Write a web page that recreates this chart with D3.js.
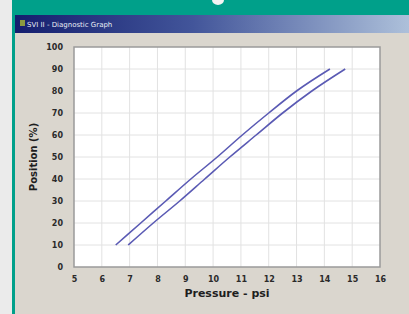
<!DOCTYPE html>
<html>
<head>
<meta charset="utf-8">
<script src="https://cdn.jsdelivr.net/npm/d3@7"></script>
<style>
  body { margin: 0; background: #ebebeb; }
  svg { display: block; font-family: "DejaVu Sans", sans-serif; }
</style>
</head>
<body>
<div id="chart"></div>
<script>
// data
const xTicks = [5, 6, 7, 8, 9, 10, 11, 12, 13, 14, 15, 16];
const yTicks = [0, 10, 20, 30, 40, 50, 60, 70, 80, 90, 100];
const upPressure = [6.5, 7.4, 8.3, 9.2, 10.15, 11.05, 12.0, 13.0, 14.2];
const upPosition = [10, 20, 30, 40, 50, 60, 70, 80, 90];
const downPressure = [6.95, 7.85, 8.8, 9.7, 10.6, 11.55, 12.5, 13.55, 14.75];
const downPosition = [10, 20, 30, 40, 50, 60, 70, 80, 90];

const W = 409, H = 314;
const svg = d3.select('#chart').append('svg').attr('width', W).attr('height', H);

// window frame
const defs = svg.append('defs');
const grad = defs.append('linearGradient').attr('id', 'titlebar');
grad.append('stop').attr('offset', '0%').attr('stop-color', '#141e6e');
grad.append('stop').attr('offset', '45%').attr('stop-color', '#42559a');
grad.append('stop').attr('offset', '100%').attr('stop-color', '#adc0da');

svg.append('rect').attr('x', 0).attr('y', 0).attr('width', W).attr('height', H).attr('fill', '#ebebeb');
svg.append('rect').attr('x', 12).attr('y', 0).attr('width', W - 12).attr('height', H).attr('fill', '#00a08a');
svg.append('rect').attr('x', 15).attr('y', 15).attr('width', W - 15).attr('height', H - 15).attr('fill', '#dad6ce');
svg.append('rect').attr('x', 15).attr('y', 15).attr('width', W - 15).attr('height', 18).attr('fill', 'url(#titlebar)');
svg.append('ellipse').attr('cx', 218).attr('cy', 0).attr('rx', 6).attr('ry', 5).attr('fill', '#f4f4f4');
svg.append('rect').attr('x', 20).attr('y', 20).attr('width', 5).attr('height', 6).attr('fill', '#8a9a40');
svg.append('text').attr('x', 27).attr('y', 27).attr('fill', '#e8ecf4')
  .style('font-size', '7px').text('SVI II - Diagnostic Graph');

// plot area
const margin = {left: 74, top: 47, right: 29, bottom: 47};
const x = d3.scaleLinear().domain([5, 16]).range([margin.left, W - margin.right]);
const y = d3.scaleLinear().domain([0, 100]).range([H - margin.bottom, margin.top]);

svg.append('rect')
  .attr('x', x(5)).attr('y', y(100))
  .attr('width', x(16) - x(5)).attr('height', y(0) - y(100))
  .attr('fill', '#ffffff');

// grid
svg.append('g').selectAll('line').data(xTicks.slice(1, -1)).enter().append('line')
  .attr('x1', d => x(d)).attr('x2', d => x(d))
  .attr('y1', y(100)).attr('y2', y(0))
  .attr('stroke', '#e2e2e2').attr('stroke-width', 1);
svg.append('g').selectAll('line').data(yTicks.slice(1, -1)).enter().append('line')
  .attr('x1', x(5)).attr('x2', x(16))
  .attr('y1', d => y(d)).attr('y2', d => y(d))
  .attr('stroke', '#e2e2e2').attr('stroke-width', 1);

svg.append('rect')
  .attr('x', x(5)).attr('y', y(100))
  .attr('width', x(16) - x(5)).attr('height', y(0) - y(100))
  .attr('fill', 'none').attr('stroke', '#9a9a9a').attr('stroke-width', 1.5);

// axes
const xAxis = svg.append('g').attr('transform', 'translate(0,' + (y(0) + 6) + ')')
  .call(d3.axisBottom(x).tickValues(xTicks).tickSize(0).tickFormat(d3.format('d')));
const yAxis = svg.append('g').attr('transform', 'translate(' + (x(5) - 8) + ',0)')
  .call(d3.axisLeft(y).tickValues(yTicks).tickSize(0).tickFormat(d3.format('d')));
[xAxis, yAxis].forEach(a => {
  a.select('.domain').remove();
  a.selectAll('text').attr('fill', '#2a2a2a')
    .style('font-size', '8px').style('font-weight', 'bold')
    .style('font-family', '"DejaVu Sans", sans-serif');
});

svg.append('text').attr('x', 227).attr('y', 297).attr('text-anchor', 'middle')
  .attr('fill', '#1e1e1e').style('font-size', '11px').style('font-weight', 'bold')
  .text('Pressure - psi');
svg.append('text').attr('transform', 'translate(37,157) rotate(-90)').attr('text-anchor', 'middle')
  .attr('fill', '#1e1e1e').style('font-size', '10px').style('font-weight', 'bold')
  .text('Position (%)');

// curves
const line = d3.line().x(d => x(d[0])).y(d => y(d[1])).curve(d3.curveMonotoneX);
[d3.zip(upPressure, upPosition), d3.zip(downPressure, downPosition)].forEach(pts => {
  svg.append('path').datum(pts).attr('d', line)
    .attr('fill', 'none').attr('stroke', '#5a5ab4').attr('stroke-width', 1.6);
});
</script>
</body>
</html>
